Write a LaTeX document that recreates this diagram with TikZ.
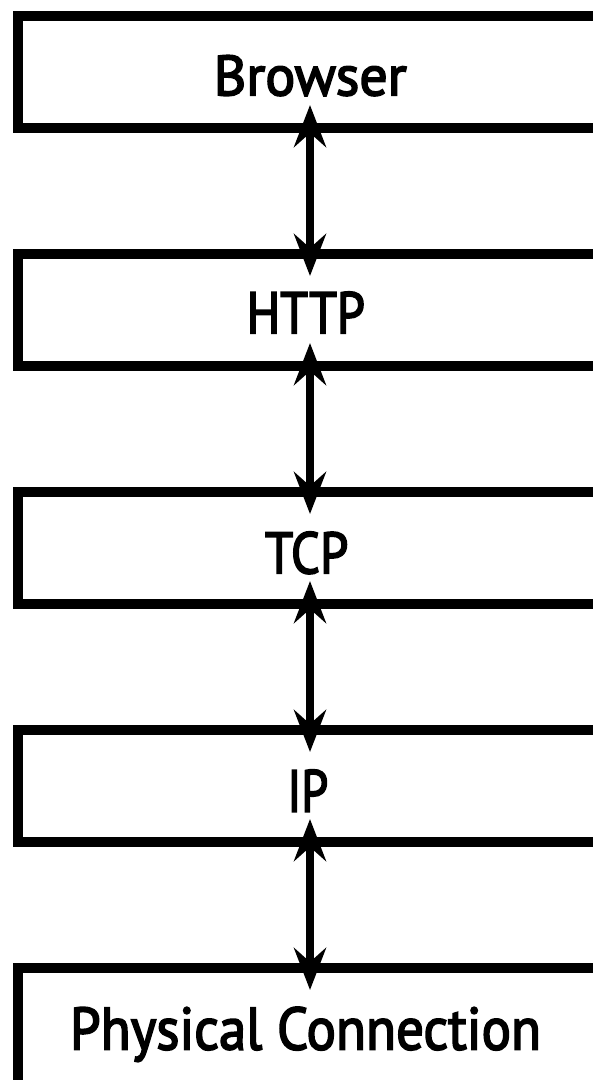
\documentclass[tikz,border=0pt]{standalone}
\usepackage{fontspec}
\usepackage{graphicx}
\newfontfamily\lblfont{PT Sans}[FakeBold=3]
\usetikzlibrary{arrows.meta}
\begin{document}
\begin{tikzpicture}[x=1pt,y=-1pt,
  layer/.style={draw=black, line width=10.5pt, minimum width=640pt, minimum height=112pt,
    inner sep=0pt, outer sep=0pt, anchor=north west},
  lbl/.style={inner sep=0pt, outer sep=0pt, anchor=base, font=\lblfont},
  tipshape/.tip={Stealth[length=42pt,width=32pt,inset=14pt]},
  link/.style={line width=7.5pt, tipshape-tipshape}
]
\useasboundingbox (0,0) rectangle (593,1080);
\clip (0,0) rectangle (593,1080);

\node[layer] (browser) at (18,16) {};
\node[layer] (http) at (18,254) {};
\node[layer] (tcp) at (18,492) {};
\node[layer] (ip) at (18,730) {};
\node[layer, minimum height=150pt] (phys) at (18,968) {};

\node[lbl] (tbrowser) at (310.2,95.3) {\resizebox{193pt}{40pt}{Browser}};
\node[lbl] (thttp) at (305.8,333.3) {\resizebox{118.3pt}{41.5pt}{HTTP}};
\node[lbl] (ttcp) at (306.7,573.3) {\resizebox{83.3pt}{41.5pt}{TCP}};
\node[lbl] (tip) at (307.8,811.7) {\resizebox{41pt}{42pt}{IP}};
\node[lbl] (tphys) at (305.5,1049.5) {\resizebox{471pt}{42.5pt}{Physical Connection}};

\coordinate (ax) at (310,0);
\draw[link, shorten <=-23pt, shorten >=-22pt] (browser.south -| ax) -- (http.north -| ax);
\draw[link, shorten <=-23pt, shorten >=-22pt] (http.south -| ax) -- (tcp.north -| ax);
\draw[link, shorten <=-23pt, shorten >=-22pt] (tcp.south -| ax) -- (ip.north -| ax);
\draw[link, shorten <=-23pt, shorten >=-22pt] (ip.south -| ax) -- (phys.north -| ax);
\end{tikzpicture}
\end{document}
